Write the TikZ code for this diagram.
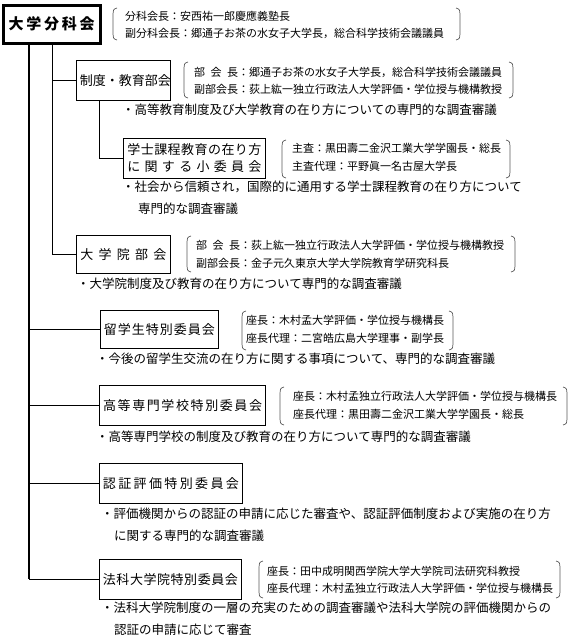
\documentclass[tikz,border=0pt]{standalone}
\usepackage{fontspec}
\setmainfont{Noto Sans CJK JP}
\usetikzlibrary{positioning}
% spread the characters of #2 over the width #1
\ExplSyntaxOn
\NewDocumentCommand{\spread}{mm}{\makebox[#1][s]{\tl_map_inline:nn {#2} {##1\hfil}\unskip}}
\ExplSyntaxOff
% round brackets round a pair of names: left x, right x, top y, bottom y
\newcommand{\pairparen}[4]{%
  \draw[paren] (#1+4,#3) .. controls (#1,#3+1) and (#1,#3+3) .. (#1,#3+6) -- (#1,#4-6) .. controls (#1,#4-3) and (#1,#4-1) .. (#1+4,#4);
  \draw[paren] (#2-4,#3) .. controls (#2,#3+1) and (#2,#3+3) .. (#2,#3+6) -- (#2,#4-6) .. controls (#2,#4-3) and (#2,#4-1) .. (#2-4,#4);}

\begin{document}
\begin{tikzpicture}[x=1pt, y=-1pt,
  unit/.style={draw, line width=0.8pt, anchor=north west, inner sep=2pt, font=\fontsize{13}{17}\selectfont},
  head/.style={unit, line width=2.5pt, font=\fontsize{15}{17}\selectfont\bfseries},
  member/.style={anchor=west, inner sep=0pt, font=\fontsize{11}{13}\selectfont},
  remit/.style={anchor=west, inner sep=0pt, font=\fontsize{12.5}{14}\selectfont},
  paren/.style={draw=black!65, line width=0.7pt},
  trunk/.style={line width=2.5pt},
  bough/.style={line width=1.6pt},
  twig/.style={line width=0.8pt}]

\useasboundingbox (0,0) rectangle (571,640);

% boxes
\node[head, minimum width=97, minimum height=38] (bunka) at (2,4) {\spread{86pt}{大学分科会}};
\node[unit, minimum width=94, minimum height=40] (seido) at (76,60) {\spread{87pt}{制度・教育部会}};
\node[unit, minimum width=142, minimum height=40, align=center] (gakushi) at (123,138) {\spread{134pt}{学士課程教育の在り方}\\\spread{134pt}{に関する小委員会}};
\node[unit, minimum width=94, minimum height=38] (daigakuin) at (76,235) {\spread{86pt}{大学院部会}};
\node[unit, minimum width=118, minimum height=38] (ryugaku) at (100,310) {\spread{111pt}{留学生特別委員会}};
\node[unit, minimum width=166, minimum height=40, line width=1.2pt] (kosen) at (99,385) {\spread{159pt}{高等専門学校特別委員会}};
\node[unit, minimum width=143, minimum height=40] (ninsho) at (99,463) {\spread{136pt}{認証評価特別委員会}};
\node[unit, minimum width=142, minimum height=40] (hoka) at (99,559) {\spread{135pt}{法科大学院特別委員会}};

% lines
\coordinate (trunk top) at (29,42);
\coordinate (branch top) at (52,42);
\coordinate (sub top) at (99,100);
\draw[trunk] (trunk top) -- (trunk top |- hoka.west);
\draw[bough] (trunk top |- hoka.west) -- (hoka.west);
\draw[bough] (trunk top |- ryugaku.west) -- (ryugaku.west);
\draw[twig] (trunk top |- kosen.west) -- (kosen.west);
\draw[twig] (trunk top |- ninsho.west) -- (ninsho.west);
\draw[twig] (branch top) |- (daigakuin.west);
\draw[twig] (branch top |- seido.west) -- (seido.west);
\draw[twig] (sub top) |- (gakushi.west);

% chairs
\pairparen{113}{460}{8}{40}
\node[member] (bunka-a) at (125,16) {分科会長：安西祐一郎慶應義塾長};
\node[member] (bunka-b) at (125,33) {副分科会長：郷通子お茶の水女子大学長，総合科学技術会議議員};

\pairparen{184}{513}{62}{98}
\node[member] (seido-a) at (194,72) {部\hspace{.5em}会\hspace{.5em}長：郷通子お茶の水女子大学長，総合科学技術会議議員};
\node[member] (seido-b) at (194,89) {副部会長：荻上紘一独立行政法人大学評価・学位授与機構教授};

\pairparen{282}{510}{140}{178}
\node[member] (gakushi-a) at (292,148) {主査：黒田壽二金沢工業大学学園長・総長};
\node[member] (gakushi-b) at (292,166) {主査代理：平野眞一名古屋大学長};

\pairparen{187}{515}{236}{272}
\node[member] (daigakuin-a) at (196,245) {部\hspace{.5em}会\hspace{.5em}長：荻上紘一独立行政法人大学評価・学位授与機構教授};
\node[member] (daigakuin-b) at (196,263) {副部会長：金子元久東京大学大学院教育学研究科長};

\pairparen{242}{453}{311}{350}
\node[member] (ryugaku-a) at (246,320) {座長：木村孟大学評価・学位授与機構長};
\node[member] (ryugaku-b) at (246,338) {座長代理：二宮皓広島大学理事・副学長};

\pairparen{280}{567}{387}{425}
\node[member] (kosen-a) at (293,396) {座長：木村孟独立行政法人大学評価・学位授与機構長};
\node[member] (kosen-b) at (293,414) {座長代理：黒田壽二金沢工業大学学園長・総長};

\pairparen{259}{560}{561}{598}
\node[member] (hoka-a) at (267,571) {座長：田中成明関西学院大学大学院司法研究科教授};
\node[member] (hoka-b) at (267,588) {座長代理：木村孟独立行政法人大学評価・学位授与機構長};

% remits
\node[remit] (seido-r) at (122,110) {・高等教育制度及び大学教育の在り方についての専門的な調査審議};
\node[remit] (gakushi-r1) at (122,187) {・社会から信頼され，国際的に通用する学士課程教育の在り方について};
\node[remit] (gakushi-r2) at (138,209) {専門的な調査審議};
\node[remit] (daigakuin-r) at (77,284) {・大学院制度及び教育の在り方について専門的な調査審議};
\node[remit] (ryugaku-r) at (96,359) {・今後の留学生交流の在り方に関する事項について、専門的な調査審議};
\node[remit] (kosen-r) at (96,437) {・高等専門学校の制度及び教育の在り方について専門的な調査審議};
\node[remit] (ninsho-r1) at (101,514) {・評価機関からの認証の申請に応じた審査や、認証評価制度および実施の在り方};
\node[remit] (ninsho-r2) at (114,536) {に関する専門的な調査審議};
\node[remit] (hoka-r1) at (101,608) {・法科大学院制度の一層の充実のための調査審議や法科大学院の評価機関からの};
\node[remit] (hoka-r2) at (114,630) {認証の申請に応じて審査};
\end{tikzpicture}
\end{document}
